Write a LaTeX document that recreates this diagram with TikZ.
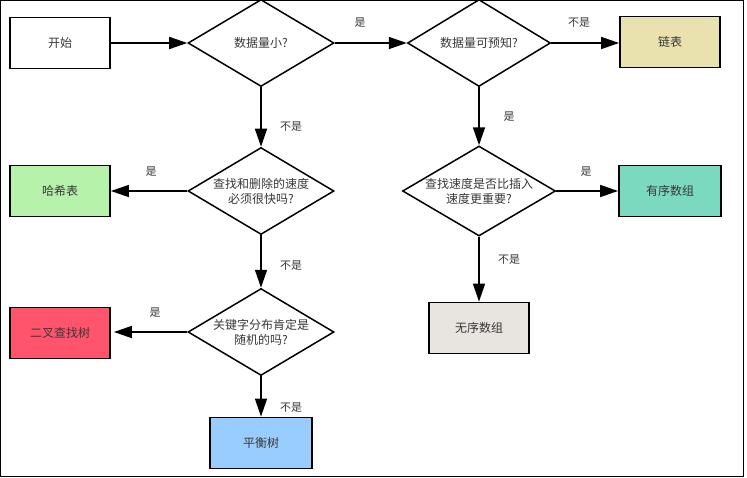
\documentclass[tikz,border=0pt]{standalone}
\usepackage{fontspec}
\setmainfont{Liberation Serif}
\newfontfamily\cjk{Noto Sans CJK SC}
\usetikzlibrary{shapes.geometric,arrows.meta}
\definecolor{ltext}{RGB}{55,55,55}
\definecolor{cyellow}{RGB}{233,226,174}
\definecolor{cgreen}{RGB}{182,242,170}
\definecolor{cred}{RGB}{255,84,108}
\definecolor{cblue}{RGB}{153,204,255}
\definecolor{cteal}{RGB}{122,217,190}
\definecolor{cgray}{RGB}{232,228,224}

\tikzset{
  box/.style={draw=black, line width=1.8pt, minimum width=100pt, minimum height=51pt,
    inner sep=0pt, font=\cjk\fontsize{12}{14}\selectfont, text=ltext},
  ask/.style={draw=black, diamond, line width=1.5pt, minimum width=146pt,
    minimum height=87pt, inner sep=0pt},
  asktext/.style={font=\cjk\fontsize{12}{15}\selectfont, text=ltext, align=center},
  lbl/.style={font=\cjk\fontsize{11}{13}\selectfont, text=ltext, inner sep=1pt},
  go/.style={-{Triangle[length=18pt,width=12pt]}, line width=1.6pt}
}

\begin{document}
\begin{tikzpicture}[x=1pt,y=-1pt]
  \useasboundingbox (0,0) rectangle (747,477);
  \draw[line width=1pt] (0.5,0.5) rectangle (743,476);

  % decisions
  \node[ask] (small) at (261,43) {};
  \node[asktext] (smallt) at (small.center) {数据量小?};
  \node[ask, minimum width=143pt] (known) at (479,43) {};
  \node[asktext] (knownt) at (known.center) {数据量可预知?};
  \node[ask] (fast) at (261,191) {};
  \node[asktext] (fastt) at (fast.center) {查找和删除的速度\\必须很快吗?};
  \node[ask] (rand) at (261,332) {};
  \node[asktext] (randt) at (rand.center) {关键字分布肯定是\\随机的吗?};
  \node[ask, minimum width=153pt, minimum height=90pt] (speed) at (479,191) {};
  \node[asktext] (speedt) at (speed.center) {查找速度是否比插入\\速度更重要?};

  % results
  \node[box, fill=white] (start) at (60,43) {开始};
  \node[box, fill=cyellow] (list) at (670,42) {链表};
  \node[box, fill=cgreen] (hash) at (60,191) {哈希表};
  \node[box, fill=cred] (bst) at (60,333) {二叉查找树};
  \node[box, fill=cblue, minimum width=102pt] (bal) at (261,443) {平衡树};
  \node[box, fill=cteal, minimum width=102pt] (sorted) at (670,191) {有序数组};
  \node[box, fill=cgray] (unsorted) at (479,328) {无序数组};

  % connectors
  \draw[go] (start) -- (small);
  \draw[go] (small) -- (known);
  \draw[go] (known.east) -- (known.east -| list.west);
  \draw[go] (small) -- (fast);
  \draw[go] (known) -- (speed);
  \draw[go] (fast) -- (hash);
  \draw[go] (speed) -- (sorted);
  \draw[go] (fast) -- (rand);
  \draw[go] (speed) -- (unsorted);
  \draw[go] (rand.west) -- ([xshift=3pt]rand.west -| bst.east);
  \draw[go] (rand) -- (bal);

  % answers
  \node[lbl] (a1) at (360,23) {是};
  \node[lbl] (a2) at (579,23) {不是};
  \node[lbl] (a3) at (291,127) {不是};
  \node[lbl] (a4) at (509,117) {是};
  \node[lbl] (a5) at (151,172) {是};
  \node[lbl] (a6) at (586,172) {是};
  \node[lbl] (a7) at (291,266) {不是};
  \node[lbl] (a8) at (509,260) {不是};
  \node[lbl] (a9) at (155,313) {是};
  \node[lbl] (a10) at (291,408) {不是};
\end{tikzpicture}
\end{document}
